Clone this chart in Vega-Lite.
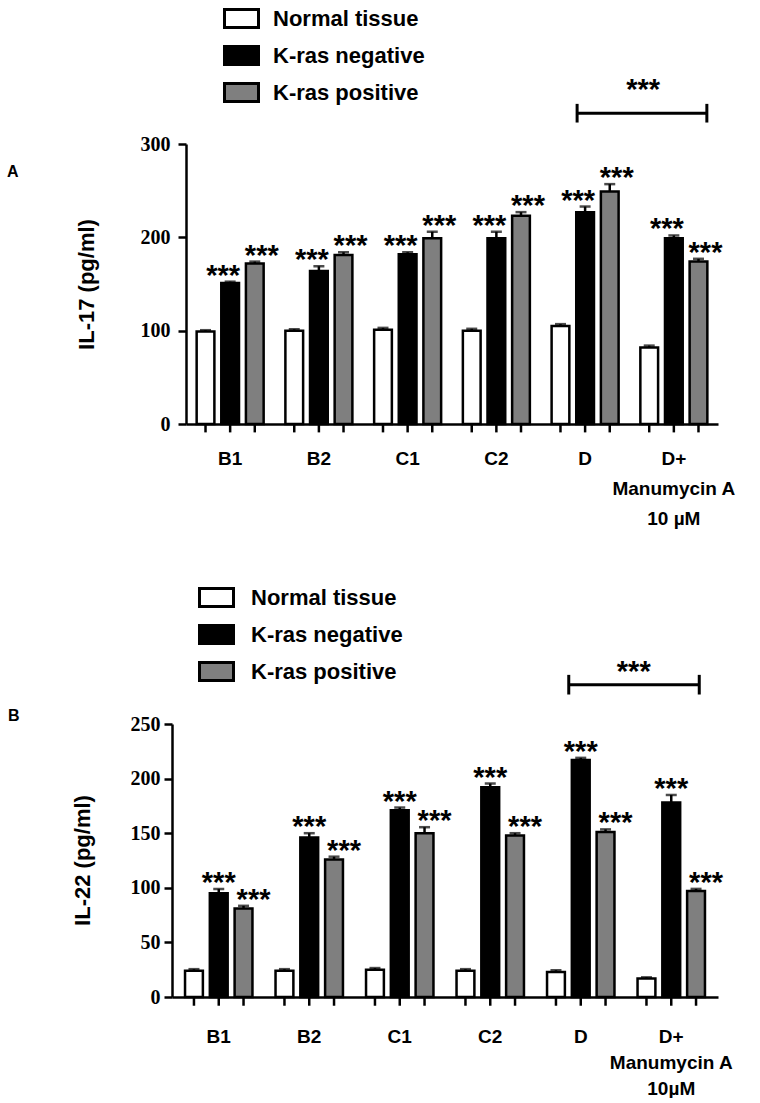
{
  "$schema": "https://vega.github.io/schema/vega-lite/v6.json",
  "background": "white",
  "padding": {"left": 7, "top": 0, "right": 0, "bottom": 0},
  "spacing": 51,
  "datasets": {
    "il17": [
      {"group": "B1", "type": "Normal tissue", "value": 99, "hi": 100.5},
      {"group": "B1", "type": "K-ras negative", "value": 151, "hi": 152.5},
      {"group": "B1", "type": "K-ras positive", "value": 172, "hi": 174},
      {"group": "B2", "type": "Normal tissue", "value": 100, "hi": 101.5},
      {"group": "B2", "type": "K-ras negative", "value": 164, "hi": 169},
      {"group": "B2", "type": "K-ras positive", "value": 181, "hi": 184},
      {"group": "C1", "type": "Normal tissue", "value": 101, "hi": 103},
      {"group": "C1", "type": "K-ras negative", "value": 182, "hi": 184},
      {"group": "C1", "type": "K-ras positive", "value": 199, "hi": 206},
      {"group": "C2", "type": "Normal tissue", "value": 100, "hi": 102},
      {"group": "C2", "type": "K-ras negative", "value": 199, "hi": 206},
      {"group": "C2", "type": "K-ras positive", "value": 223, "hi": 227},
      {"group": "D", "type": "Normal tissue", "value": 105, "hi": 107},
      {"group": "D", "type": "K-ras negative", "value": 227, "hi": 233},
      {"group": "D", "type": "K-ras positive", "value": 249, "hi": 257},
      {"group": "D+", "type": "Normal tissue", "value": 82, "hi": 84},
      {"group": "D+", "type": "K-ras negative", "value": 199, "hi": 202},
      {"group": "D+", "type": "K-ras positive", "value": 174, "hi": 177}
    ],
    "il22": [
      {"group": "B1", "type": "Normal tissue", "value": 24, "hi": 25.5},
      {"group": "B1", "type": "K-ras negative", "value": 95, "hi": 99},
      {"group": "B1", "type": "K-ras positive", "value": 81, "hi": 83.5},
      {"group": "B2", "type": "Normal tissue", "value": 24, "hi": 25.5},
      {"group": "B2", "type": "K-ras negative", "value": 146, "hi": 150},
      {"group": "B2", "type": "K-ras positive", "value": 126, "hi": 128.5},
      {"group": "C1", "type": "Normal tissue", "value": 25, "hi": 26.5},
      {"group": "C1", "type": "K-ras negative", "value": 171, "hi": 173.5},
      {"group": "C1", "type": "K-ras positive", "value": 150, "hi": 155.5},
      {"group": "C2", "type": "Normal tissue", "value": 24, "hi": 25.5},
      {"group": "C2", "type": "K-ras negative", "value": 192, "hi": 195.5},
      {"group": "C2", "type": "K-ras positive", "value": 148, "hi": 150},
      {"group": "D", "type": "Normal tissue", "value": 23, "hi": 24.5},
      {"group": "D", "type": "K-ras negative", "value": 217, "hi": 219},
      {"group": "D", "type": "K-ras positive", "value": 151, "hi": 153.5},
      {"group": "D+", "type": "Normal tissue", "value": 17, "hi": 18},
      {"group": "D+", "type": "K-ras negative", "value": 178, "hi": 185},
      {"group": "D+", "type": "K-ras positive", "value": 97, "hi": 99}
    ]
  },
  "config": {
    "view": {"stroke": null},
    "font": "Liberation Sans",
    "axis": {"domainColor": "black", "domainWidth": 2.5, "tickColor": "black", "tickWidth": 2.5, "grid": false, "labelColor": "black", "titleColor": "black"},
    "legend": {"padding": 0}
  },
  "resolve": {"scale": {"color": "independent", "x": "independent", "y": "independent", "xOffset": "independent"}, "legend": {"color": "independent"}},
  "vconcat": [
    {
      "width": 532,
      "height": 280,
      "title": {"text": "A", "anchor": "start", "frame": "group", "orient": "top", "offset": 0, "dx": -179, "dy": 180, "fontSize": 16, "font": "Liberation Sans", "fontWeight": "bold", "color": "black"},
      "data": {"name": "il17"},
      "layer": [
        {
          "mark": {"type": "rule", "color": "black", "strokeWidth": 2.5},
          "encoding": {
            "x": {"field": "group", "type": "nominal", "title": null},
            "xOffset": {"field": "type", "type": "nominal"},
            "y": {"field": "value", "type": "quantitative", "title": "IL-17 (pg/ml)"},
            "y2": {"field": "hi"}
          }
        },
        {
          "mark": {"type": "tick", "color": "black", "thickness": 2.5, "size": 11},
          "encoding": {
            "x": {"field": "group", "type": "nominal", "title": null},
            "xOffset": {"field": "type", "type": "nominal"},
            "y": {"field": "hi", "type": "quantitative", "title": "IL-17 (pg/ml)"}
          }
        },
        {
          "mark": {"type": "bar", "stroke": "black", "strokeWidth": 2.5},
          "encoding": {
            "x": {"field": "group", "type": "nominal", "title": null, "sort": ["B1", "B2", "C1", "C2", "D", "D+"],
              "scale": {"domain": ["B1", "B2", "C1", "C2", "D", "D+"], "paddingInner": 0.245, "paddingOuter": 0.12},
              "axis": {"ticks": false, "tickSize": 0, "labelAngle": 0, "labelAlign": "center", "labelFlush": false, "labelOverlap": false, "labelFont": "Liberation Sans", "labelFontWeight": "bold", "labelFontSize": 19, "labelPadding": 34, "labelLineHeight": 30,
                "labelExpr": "datum.value == 'D+' ? ['D+', 'Manumycin A', '10 µM'] : datum.value"}},
            "xOffset": {"field": "type", "type": "nominal", "scale": {"domain": ["Normal tissue", "K-ras negative", "K-ras positive"], "paddingInner": 0.28}},
            "y": {"field": "value", "type": "quantitative", "title": "IL-17 (pg/ml)", "scale": {"domain": [0, 300], "nice": false},
              "axis": {"values": [0, 100, 200, 300], "tickSize": 8, "labelFont": "Liberation Serif", "labelFontWeight": "bold", "labelFontSize": 20, "labelPadding": 8,
                "titleFont": "Liberation Sans", "titleFontWeight": "bold", "titleFontSize": 22, "titleX": -100, "titleY": 140, "titleBaseline": "middle", "titleAngle": -90}},
            "color": {"field": "type", "type": "nominal",
              "scale": {"domain": ["Normal tissue", "K-ras negative", "K-ras positive"], "range": ["#ffffff", "#000000", "#7f7f7f"]},
              "legend": {"orient": "none", "legendX": 37, "legendY": -144, "title": null, "symbolType": "M-1,-0.53H1V0.53H-1Z", "symbolSize": 1156, "symbolStrokeColor": "black", "symbolStrokeWidth": 3, "symbolOpacity": 1, "labelFont": "Liberation Sans", "labelFontWeight": "bold", "labelFontSize": 22, "labelColor": "black", "labelOffset": 13, "rowPadding": 3, "labelLimit": 300}}
          }
        },
        {
          "mark": {"type": "rule", "color": "black", "strokeWidth": 2.5},
          "encoding": {
            "x": {"field": "group", "type": "nominal", "title": null},
            "xOffset": {"field": "type", "type": "nominal"},
            "y": {"datum": 0, "title": "IL-17 (pg/ml)"},
            "y2": {"datum": -9}
          }
        },
        {
          "transform": [{"filter": "datum.type == 'K-ras negative'"}],
          "mark": {"type": "text", "font": "Liberation Sans", "fontWeight": "bold", "fontSize": 29, "baseline": "alphabetic", "dx": -7, "dy": 3, "color": "black"},
          "encoding": {
            "x": {"field": "group", "type": "nominal", "title": null},
            "xOffset": {"field": "type", "type": "nominal"},
            "y": {"field": "hi", "type": "quantitative", "title": "IL-17 (pg/ml)"},
            "text": {"value": "***"}
          }
        },
        {
          "transform": [{"filter": "datum.type == 'K-ras positive'"}],
          "mark": {"type": "text", "font": "Liberation Sans", "fontWeight": "bold", "fontSize": 29, "baseline": "alphabetic", "dx": 7, "dy": 3, "color": "black"},
          "encoding": {
            "x": {"field": "group", "type": "nominal", "title": null},
            "xOffset": {"field": "type", "type": "nominal"},
            "y": {"field": "hi", "type": "quantitative", "title": "IL-17 (pg/ml)"},
            "text": {"value": "***"}
          }
        },
        {
          "data": {"values": [{"from": "D", "to": "D+", "y": 333, "capLo": 323, "capHi": 343, "label": "***"}]},
          "layer": [
            {
              "mark": {"type": "rule", "color": "black", "strokeWidth": 3, "xOffset": -8, "x2Offset": 33},
              "encoding": {
                "x": {"field": "from", "type": "nominal", "title": null},
                "x2": {"field": "to"},
                "y": {"field": "y", "type": "quantitative", "title": "IL-17 (pg/ml)"}
              }
            },
            {
              "mark": {"type": "rule", "color": "black", "strokeWidth": 3, "xOffset": -8},
              "encoding": {
                "x": {"field": "from", "type": "nominal", "title": null},
                "y": {"field": "capLo", "type": "quantitative", "title": "IL-17 (pg/ml)"},
                "y2": {"field": "capHi"}
              }
            },
            {
              "mark": {"type": "rule", "color": "black", "strokeWidth": 3, "xOffset": 33},
              "encoding": {
                "x": {"field": "to", "type": "nominal", "title": null},
                "y": {"field": "capLo", "type": "quantitative", "title": "IL-17 (pg/ml)"},
                "y2": {"field": "capHi"}
              }
            },
            {
              "mark": {"type": "text", "font": "Liberation Sans", "fontWeight": "bold", "fontSize": 29, "baseline": "alphabetic", "dx": 58, "dy": -14, "color": "black"},
              "encoding": {
                "x": {"field": "from", "type": "nominal", "title": null},
                "y": {"field": "y", "type": "quantitative", "title": "IL-17 (pg/ml)"},
                "text": {"field": "label"}
              }
            }
          ]
        }
      ]
    },
    {
      "width": 532,
      "height": 273,
      "title": {"text": "B", "anchor": "start", "frame": "group", "orient": "top", "offset": 0, "dx": -178, "dy": 145, "fontSize": 16, "font": "Liberation Sans", "fontWeight": "bold", "color": "black"},
      "data": {"name": "il22"},
      "layer": [
        {
          "mark": {"type": "rule", "color": "black", "strokeWidth": 2.5},
          "encoding": {
            "x": {"field": "group", "type": "nominal", "title": null},
            "xOffset": {"field": "type", "type": "nominal"},
            "y": {"field": "value", "type": "quantitative", "title": "IL-22 (pg/ml)"},
            "y2": {"field": "hi"}
          }
        },
        {
          "mark": {"type": "tick", "color": "black", "thickness": 2.5, "size": 11},
          "encoding": {
            "x": {"field": "group", "type": "nominal", "title": null},
            "xOffset": {"field": "type", "type": "nominal"},
            "y": {"field": "hi", "type": "quantitative", "title": "IL-22 (pg/ml)"}
          }
        },
        {
          "mark": {"type": "bar", "stroke": "black", "strokeWidth": 2.5},
          "encoding": {
            "x": {"field": "group", "type": "nominal", "title": null, "sort": ["B1", "B2", "C1", "C2", "D", "D+"],
              "scale": {"domain": ["B1", "B2", "C1", "C2", "D", "D+"], "range": [-14, 532], "paddingInner": 0.255, "paddingOuter": 0.144},
              "axis": {"ticks": false, "tickSize": 0, "labelAngle": 0, "labelAlign": "center", "labelFlush": false, "labelOverlap": false, "labelFont": "Liberation Sans", "labelFontWeight": "bold", "labelFontSize": 19, "labelPadding": 39, "labelLineHeight": 26,
                "labelExpr": "datum.value == 'D+' ? ['D+', 'Manumycin A', '10µM'] : datum.value"}},
            "xOffset": {"field": "type", "type": "nominal", "scale": {"domain": ["Normal tissue", "K-ras negative", "K-ras positive"], "paddingInner": 0.28}},
            "y": {"field": "value", "type": "quantitative", "title": "IL-22 (pg/ml)", "scale": {"domain": [0, 250], "nice": false},
              "axis": {"offset": 14, "values": [0, 50, 100, 150, 200, 250], "tickSize": 8, "labelFont": "Liberation Serif", "labelFontWeight": "bold", "labelFontSize": 20, "labelPadding": 4,
                "titleFont": "Liberation Sans", "titleFontWeight": "bold", "titleFontSize": 22, "titleX": -90, "titleY": 136, "titleBaseline": "middle", "titleAngle": -90}},
            "color": {"field": "type", "type": "nominal",
              "scale": {"domain": ["Normal tissue", "K-ras negative", "K-ras positive"], "range": ["#ffffff", "#000000", "#7f7f7f"]},
              "legend": {"orient": "none", "legendX": 12, "legendY": -145, "title": null, "symbolType": "M-1,-0.53H1V0.53H-1Z", "symbolSize": 1156, "symbolStrokeColor": "black", "symbolStrokeWidth": 3, "symbolOpacity": 1, "labelFont": "Liberation Sans", "labelFontWeight": "bold", "labelFontSize": 22, "labelColor": "black", "labelOffset": 16, "rowPadding": 3, "labelLimit": 300}}
          }
        },
        {
          "mark": {"type": "rule", "color": "black", "strokeWidth": 2.5},
          "encoding": {
            "x": {"field": "group", "type": "nominal", "title": null},
            "xOffset": {"field": "type", "type": "nominal"},
            "y": {"datum": 0, "title": "IL-22 (pg/ml)"},
            "y2": {"datum": -8}
          }
        },
        {
          "transform": [{"filter": "datum.type == 'K-ras negative'"}],
          "mark": {"type": "text", "font": "Liberation Sans", "fontWeight": "bold", "fontSize": 29, "baseline": "alphabetic", "dx": 0, "dy": 3, "color": "black"},
          "encoding": {
            "x": {"field": "group", "type": "nominal", "title": null},
            "xOffset": {"field": "type", "type": "nominal"},
            "y": {"field": "hi", "type": "quantitative", "title": "IL-22 (pg/ml)"},
            "text": {"value": "***"}
          }
        },
        {
          "transform": [{"filter": "datum.type == 'K-ras positive'"}],
          "mark": {"type": "text", "font": "Liberation Sans", "fontWeight": "bold", "fontSize": 29, "baseline": "alphabetic", "dx": 10, "dy": 3, "color": "black"},
          "encoding": {
            "x": {"field": "group", "type": "nominal", "title": null},
            "xOffset": {"field": "type", "type": "nominal"},
            "y": {"field": "hi", "type": "quantitative", "title": "IL-22 (pg/ml)"},
            "text": {"value": "***"}
          }
        },
        {
          "data": {"values": [{"from": "D", "to": "D+", "y": 286, "capLo": 277, "capHi": 295, "label": "***"}]},
          "layer": [
            {
              "mark": {"type": "rule", "color": "black", "strokeWidth": 3, "xOffset": -12, "x2Offset": 28},
              "encoding": {
                "x": {"field": "from", "type": "nominal", "title": null},
                "x2": {"field": "to"},
                "y": {"field": "y", "type": "quantitative", "title": "IL-22 (pg/ml)"}
              }
            },
            {
              "mark": {"type": "rule", "color": "black", "strokeWidth": 3, "xOffset": -12},
              "encoding": {
                "x": {"field": "from", "type": "nominal", "title": null},
                "y": {"field": "capLo", "type": "quantitative", "title": "IL-22 (pg/ml)"},
                "y2": {"field": "capHi"}
              }
            },
            {
              "mark": {"type": "rule", "color": "black", "strokeWidth": 3, "xOffset": 28},
              "encoding": {
                "x": {"field": "to", "type": "nominal", "title": null},
                "y": {"field": "capLo", "type": "quantitative", "title": "IL-22 (pg/ml)"},
                "y2": {"field": "capHi"}
              }
            },
            {
              "mark": {"type": "text", "font": "Liberation Sans", "fontWeight": "bold", "fontSize": 29, "baseline": "alphabetic", "dx": 53, "dy": -4, "color": "black"},
              "encoding": {
                "x": {"field": "from", "type": "nominal", "title": null},
                "y": {"field": "y", "type": "quantitative", "title": "IL-22 (pg/ml)"},
                "text": {"field": "label"}
              }
            }
          ]
        }
      ]
    }
  ]
}
